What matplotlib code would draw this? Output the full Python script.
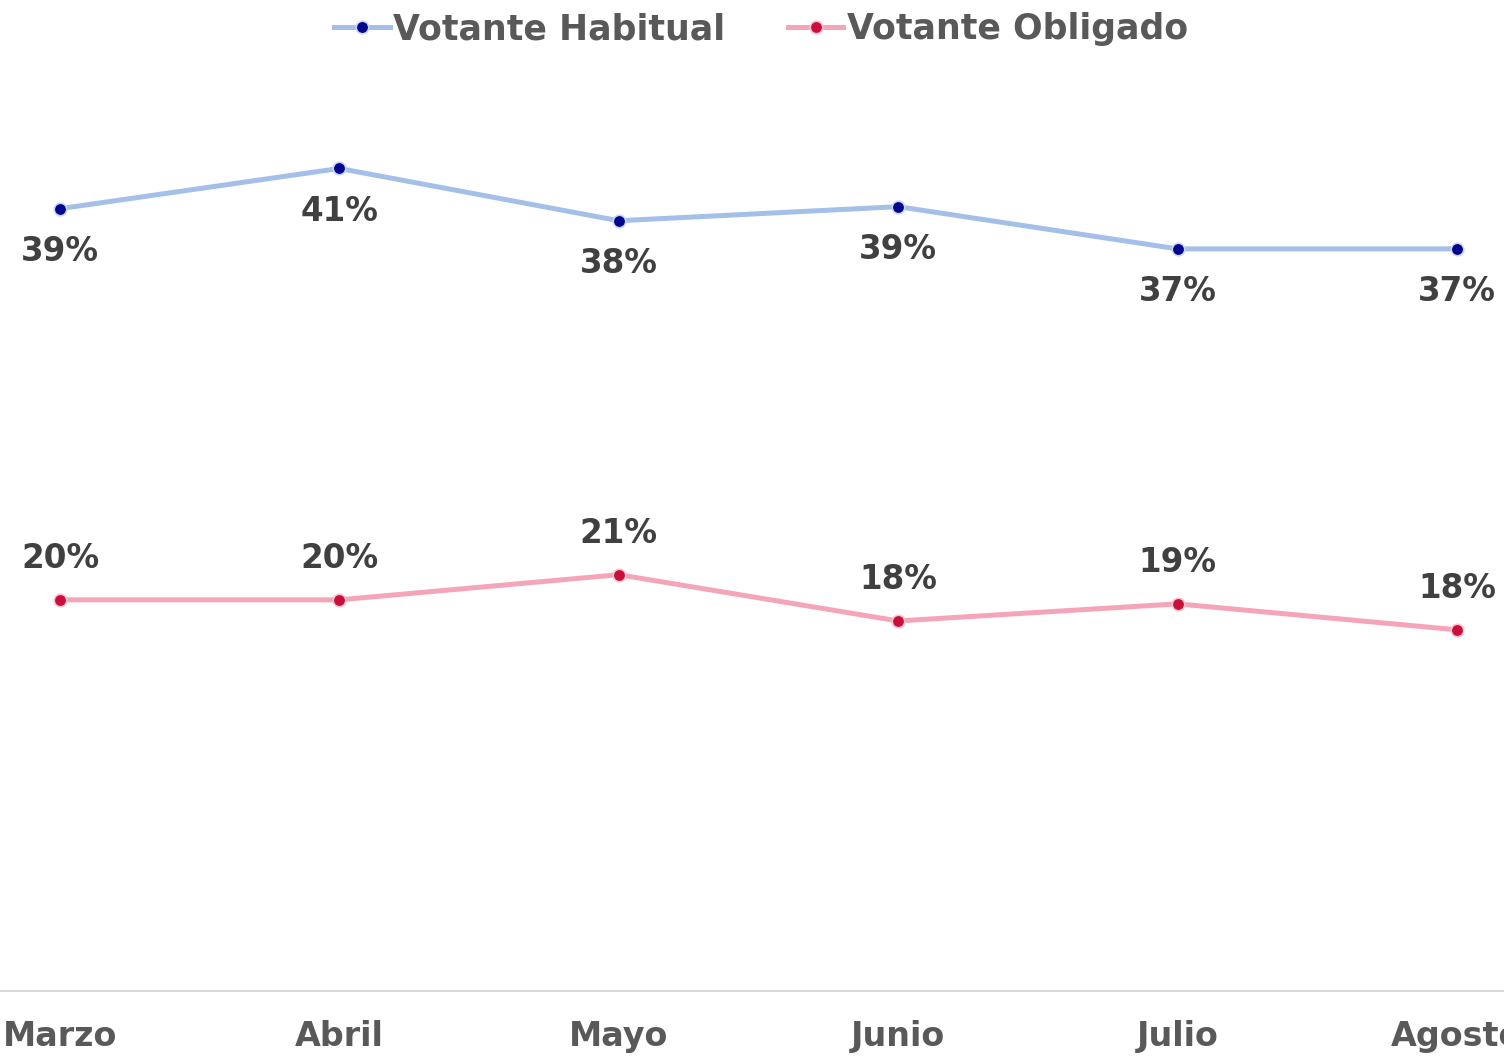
import numpy as np
import matplotlib
matplotlib.use("Agg")
from matplotlib import pyplot as plt

# datos
meses = ["Marzo", "Abril", "Mayo", "Junio", "Julio", "Agosto"]
habitual = [38.9, 40.9, 38.3, 39.0, 36.9, 36.9]
obligado = [19.45, 19.45, 20.7, 18.4, 19.25, 17.96]
etiq_habitual = ["39%", "41%", "38%", "39%", "37%", "37%"]
etiq_obligado = ["20%", "20%", "21%", "18%", "19%", "18%"]

plt.rcParams['font.family'] = ['DejaVu Sans']

fig = plt.figure(figsize=(15.04, 10.59), dpi=100)
ax = fig.add_axes([0, 1 - 991 / 1059, 1, (991 - 86) / 1059])

x = np.arange(len(meses))
ax.plot(x, habitual, color='#A4BFE8', lw=3.6, marker='o', markersize=9,
        markerfacecolor='#00058F', markeredgecolor='#C8D8F4', markeredgewidth=1.2,
        label='Votante Habitual')
ax.plot(x, obligado, color='#F4A6B8', lw=3.6, marker='o', markersize=9,
        markerfacecolor='#C8103A', markeredgecolor='#F8C4D0', markeredgewidth=1.2,
        label='Votante Obligado')

# etiquetas: habitual abajo, obligado arriba
for i in range(len(x)):
    ax.annotate(etiq_habitual[i], xy=(x[i], habitual[i]), xytext=(0, -31),
                textcoords='offset points', ha='center', va='center',
                fontsize=23.5, fontweight='bold', color='#404040')
    ax.annotate(etiq_obligado[i], xy=(x[i], obligado[i]), xytext=(0, 29.5),
                textcoords='offset points', ha='center', va='center',
                fontsize=23.5, fontweight='bold', color='#404040')

ax.set_xlim(-60 / 279.4, 1444 / 279.4)
ax.set_ylim(0, 45)
ax.set_xticks(x)
ax.set_xticklabels(meses, fontsize=24, fontweight='bold', color='#595959')
ax.tick_params(axis='x', length=0, pad=21)
ax.set_yticks([])
for s in ['top', 'left', 'right']:
    ax.spines[s].set_visible(False)
ax.spines['bottom'].set_color('#D9D9D9')
ax.spines['bottom'].set_linewidth(1.5)

leg = fig.legend(loc='center', bbox_to_anchor=(0.506, 1 - 29 / 1059), ncol=2,
                 frameon=False, prop={'size': 25, 'weight': 'bold'},
                 handlelength=1.6, handletextpad=0.1, columnspacing=1.8)
for t in leg.get_texts():
    t.set_color('#595959')

fig.savefig('out.png', dpi=100)
